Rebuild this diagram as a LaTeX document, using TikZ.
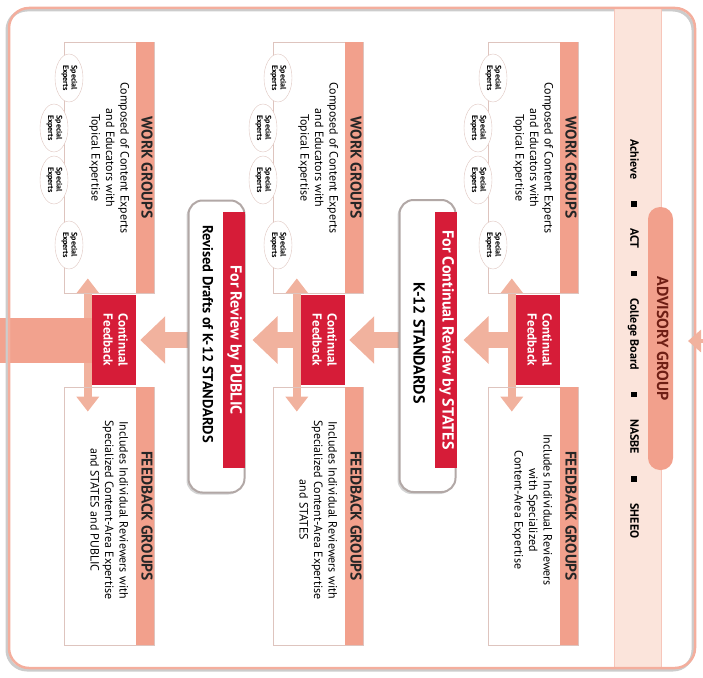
\documentclass[tikz,border=0pt]{standalone}
\usepackage{fontspec}
\setmainfont{PT Sans}
\usetikzlibrary{arrows.meta,shapes.geometric,shadows,calc,positioning}
\definecolor{salmon}{RGB}{242,160,140}
\definecolor{arrowpink}{RGB}{241,178,158}
\definecolor{bandpink}{RGB}{251,228,219}
\definecolor{crimson}{RGB}{214,28,56}
\definecolor{boxline}{RGB}{222,196,190}
\definecolor{rimgray}{RGB}{178,168,166}
\definecolor{advtext}{RGB}{110,30,20}
\pgfdeclarelayer{behind}
\pgfsetlayers{behind,main}
\newcommand{\vtext}[1]{\rotatebox{-90}{\begin{tabular}{@{}c@{}}#1\end{tabular}}}
\newcommand{\sqmark}{\rule[1pt]{5.5pt}{5.5pt}}

\begin{document}
\begin{tikzpicture}[x=1pt,y=-1pt,
  grpbox/.style={draw=boxline,line width=0.8pt,minimum width=90pt,inner sep=0pt},
  titlebar/.style={fill=salmon,minimum width=18pt,inner sep=0pt,text=black!85,font=\bfseries\fontsize{15.5}{17}\selectfont},
  desc/.style={inner sep=0pt,font=\fontsize{12}{14.5}\selectfont},
  expert/.style={ellipse,draw=boxline,fill=white,minimum width=28pt,minimum height=48pt,inner sep=0pt,font=\bfseries\fontsize{8}{8.5}\selectfont},
  feedback/.style={fill=crimson,minimum width=44pt,minimum height=90pt,inner sep=0pt,text=white,font=\bfseries\fontsize{13}{15}\selectfont},
  reviewbox/.style={draw=rimgray,line width=2pt,fill=white,rounded corners=14pt,minimum width=56pt,minimum height=292pt,drop shadow={shadow xshift=-2pt,shadow yshift=-2pt,opacity=0.35}},
  redbar/.style={fill=crimson,minimum width=22pt,minimum height=256pt,inner sep=0pt,text=white,font=\bfseries\fontsize{16}{17}\selectfont},
  flow/.style={arrowpink,line width=16pt,-{Triangle[width=46pt,length=25pt]}},
  branch/.style={arrowpink,line width=8pt,-{Triangle[width=22pt,length=15pt]}}]
\useasboundingbox (0,0) rectangle (703,677);
\def\outerframe{(9,8) rectangle (695,668)}

% frame and advisory column
\draw[black!20,line width=3pt,rounded corners=20pt] (7,10) rectangle (693,670);
\begin{scope}
\clip[rounded corners=20pt] \outerframe;
\fill[bandpink] (614,0) rectangle (661,677);
\draw[salmon!60] (614,0) -- (614,677) (661,0) -- (661,677);
\end{scope}
\draw[salmon!85,line width=2.5pt,rounded corners=20pt] \outerframe;

\node[fill=salmon,rounded corners=12pt,minimum width=25pt,minimum height=263pt,inner sep=0pt,text=advtext,font=\bfseries\fontsize{16}{17}\selectfont] (adv) at (660.5,338.5) {\vtext{ADVISORY GROUP}};
\node[font=\bfseries\fontsize{12}{13}\selectfont] (members) at (633,339)
  {\vtext{Achieve\hspace{22pt}\sqmark\hspace{22pt}ACT\hspace{22pt}\sqmark\hspace{22pt}College Board\hspace{22pt}\sqmark\hspace{22pt}NASBE\hspace{22pt}\sqmark\hspace{22pt}SHEEO}};
\coordinate (advin) at (703,341);
\draw[arrowpink,line width=4pt,-{Triangle[width=22pt,length=13pt]}] (advin) -- +(-15,0);

% one column per stage
\foreach \L/\n/\fbtext in {488/1/{Includes Individual Reviewers\\with Specialized\\Content-Area Expertise},
  273/2/{Includes Individual Reviewers with\\Specialized Content-Area Expertise\\and STATES},
  64/3/{Includes Individual Reviewers with\\Specialized Content-Area Expertise\\and STATES and PUBLIC}}
{
  \node[grpbox,minimum height=251pt] (wg\n) at (\L+45,167.5) {};
  \node[titlebar,minimum height=251pt] (wgbar\n) at (\L+81,167.5) {\vtext{WORK GROUPS}};
  \node[desc] (wgtxt\n) at (\L+45,158) {\vtext{Composed of Content Experts\\and Educators with\\Topical Expertise}};
  \foreach \dx/\y/\k in {5/78/a,-10/128/b,-10/180/c,5/245/d}
    \node[expert] (se\n\k) at (\L+\dx,\y) {\vtext{Special\\Experts}};
  \node[grpbox,minimum height=258pt] (fg\n) at (\L+45,516) {};
  \node[titlebar,minimum height=258pt] (fgbar\n) at (\L+81,516) {\vtext{FEEDBACK GROUPS}};
  \node[desc] (fgtxt\n) at (\L+44,510) {\vtext{\fbtext}};
  \node[feedback] (fb\n) at (\L+50,340) {\vtext{Continual\\Feedback}};
  \begin{pgfonlayer}{behind}
    \draw[branch] ($(fb\n.west)+(-4,0)$) -- ($(fb\n.west |- wg\n.south)+(-4,-15)$);
    \draw[branch] ($(fb\n.west)+(-4,0)$) -- ($(fb\n.west |- fg\n.north)+(-4,25)$);
  \end{pgfonlayer}
}

% review stages
\node[reviewbox] (sts) at (427.5,346) {};
\node[redbar] (stsbar) at (446,340) {\vtext{For Continual Review by STATES}};
\node[font=\bfseries\fontsize{16}{17}\selectfont] (ststxt) at (417,343) {\vtext{K-12 STANDARDS}};
\node[reviewbox] (pub) at (216.5,346.5) {};
\node[redbar] (pubbar) at (234,340) {\vtext{For Review by PUBLIC}};
\node[font=\bfseries\fontsize{14.5}{16}\selectfont] (pubtxt) at (206,334) {\vtext{Revised Drafts of K-12 STANDARDS}};

\coordinate (out) at (0,340);
\begin{pgfonlayer}{behind}
\draw[flow,shorten >=7pt] (fb1.west) -- (fb1.west -| sts.east);
\draw[flow,shorten >=4pt] (sts.west |- fb2.east) -- (fb2.east);
\draw[flow,shorten >=7pt] (fb2.west) -- (fb2.west -| pub.east);
\draw[flow,shorten >=4pt] (pub.west |- fb3.east) -- (fb3.east);
\draw[salmon!90!arrowpink,line width=45pt] (fb3.west) -- (out);
\end{pgfonlayer}
\end{tikzpicture}
\end{document}
